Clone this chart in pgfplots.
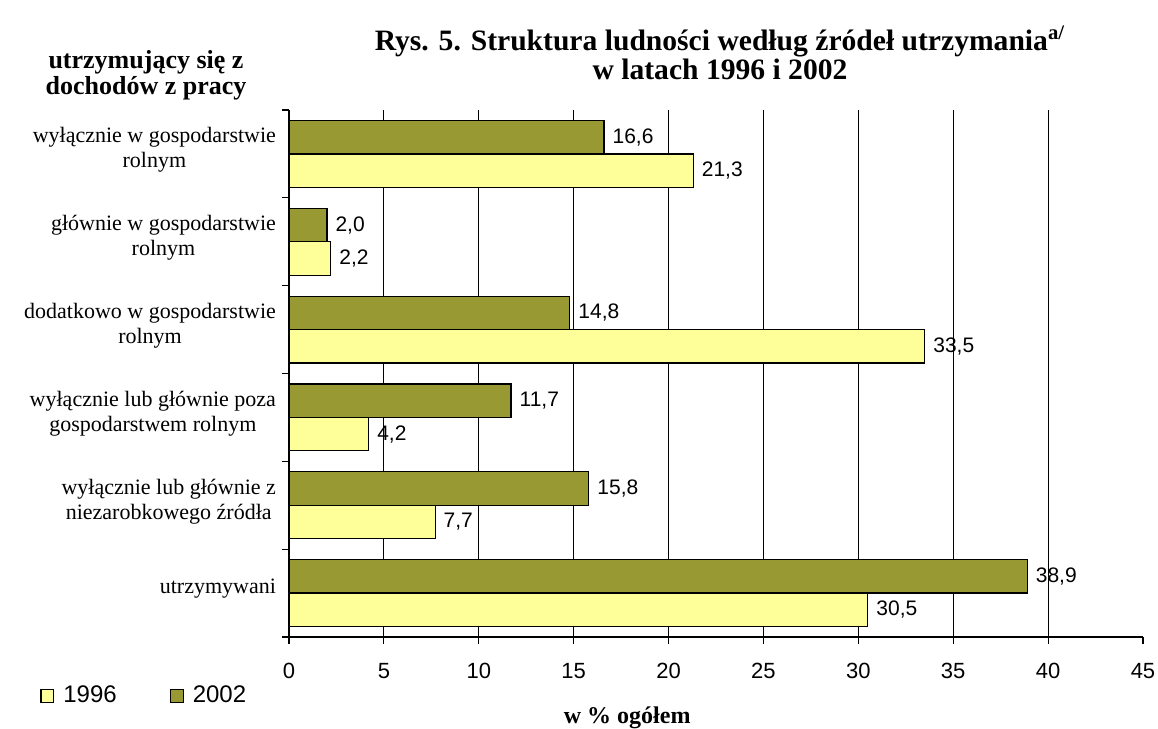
\documentclass[border=0pt]{standalone}
\usepackage{fontspec}
\setmainfont{Liberation Serif}
\newfontfamily\arial{Liberation Sans}
\usepackage{pgfplots}
\pgfplotsset{compat=1.18}
\definecolor{olivebar}{RGB}{153,153,51}
\definecolor{yellowbar}{RGB}{255,255,153}
\begin{document}
\begin{tikzpicture}
\useasboundingbox (0,0) rectangle (579pt,364.5pt);
\begin{axis}[
  at={(144.5pt,46pt)}, anchor=south west,
  scale only axis, width=427pt, height=263.5pt,
  xbar, bar width=0.38,
  xmin=0, xmax=45, ymin=-0.5, ymax=5.5, y dir=reverse,
  axis x line*=bottom, axis y line*=left,
  axis line style={line width=0.6pt, black},
  tick align=outside, major tick length=3.5pt,
  tick style={line width=0.6pt, black},
  xtick={0,5,...,45},
  extra x ticks={5,10,...,40}, extra x tick labels={},
  extra x tick style={grid=major, major tick length=0pt},
  grid style={black, line width=0.6pt},
  ytick={-0.5,0.5,1.5,2.5,3.5,4.5,5.5}, yticklabels={},
  extra y ticks={0,1,2,3,4,5},
  extra y tick labels={{wyłącznie w gospodarstwie\\rolnym},{głównie w gospodarstwie\\rolnym},{dodatkowo w gospodarstwie\\rolnym},{wyłącznie lub głównie poza\\gospodarstwem rolnym},{wyłącznie lub głównie z\\niezarobkowego źródła},{utrzymywani}},
  extra y tick style={major tick length=0pt, tick label style={align=center, font=\fontsize{11}{12.5}\selectfont, xshift=-3pt, yshift=2pt}},
  /pgf/number format/assume math mode=true,
  xticklabel style={font=\arial\fontsize{11}{12}\selectfont, yshift=-6pt},
  xlabel={w \% ogółem},
  xlabel style={at={(axis description cs:0.396,-0.154)}, anchor=center, font=\bfseries\fontsize{12}{13}\selectfont},
  point meta=x,
  nodes near coords={\pgfmathprintnumber[fixed,fixed zerofill,precision=1,use comma,assume math mode=true]{\pgfplotspointmeta}},
  nodes near coords style={font=\arial\fontsize{10.5}{12}\selectfont, anchor=west, inner sep=0pt, xshift=4pt, black},
  legend style={at={(axis description cs:-0.2916,-0.112)}, anchor=west, draw=none, fill=none,
    inner sep=0pt, font=\arial\fontsize{12}{13}\selectfont,
    /tikz/every odd column/.append style={column sep=2.5pt},
    /tikz/every even column/.append style={column sep=24.5pt}},
  legend columns=2,
  clip=false,
]
\addplot[fill=yellowbar, draw=black, line width=0.6pt, bar shift=0.19,
  legend image code/.code={\draw[fill=yellowbar, draw=black, line width=0.6pt] (0pt,-3.2pt) rectangle (6.4pt,3.2pt);}]
  coordinates {(21.3,0) (2.2,1) (33.5,2) (4.2,3) (7.7,4) (30.5,5)};
\addlegendentry{1996}
\addplot[fill=olivebar, draw=black, line width=0.6pt, bar shift=-0.19,
  legend image code/.code={\draw[fill=olivebar, draw=black, line width=0.6pt] (0pt,-3.2pt) rectangle (6.4pt,3.2pt);}]
  coordinates {(16.6,0) (2.0,1) (14.8,2) (11.7,3) (15.8,4) (38.9,5)};
\addlegendentry{2002}
\end{axis}
\node[align=center, font=\bfseries\fontsize{14.8}{14.5}\selectfont] at (360pt,338pt)
  {Rys. 5. Struktura ludności według źródeł utrzymania\textsuperscript{a/}\\w latach 1996 i 2002};
\node[align=center, font=\bfseries\fontsize{13}{12.8}\selectfont] at (73pt,327pt)
  {utrzymujący się z\\dochodów z pracy};
\end{tikzpicture}
\end{document}
